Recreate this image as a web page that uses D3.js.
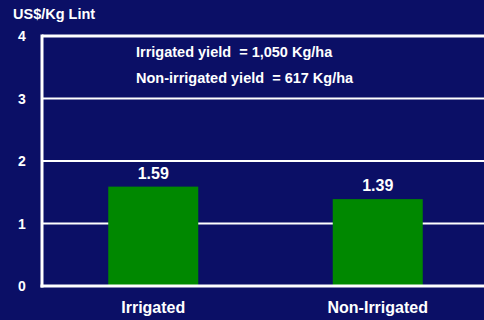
<!DOCTYPE html>
<html><head><meta charset="utf-8">
<script src="https://cdn.jsdelivr.net/npm/d3@7"></script>
<style>html,body{margin:0;padding:0;background:#0b0f66;}svg{display:block;}text{white-space:pre;}</style>
</head><body>
<script>
const categories = ["Irrigated", "Non-Irrigated"];
const values = [1.59, 1.39];
const yTicks = [0, 1, 2, 3, 4];
const notes = ["Irrigated yield  = 1,050 Kg/ha", "Non-irrigated yield  = 617 Kg/ha"];
const yTitle = "US$/Kg Lint";

const W = 484, H = 320;
const m = {left: 42, right: 0, top: 36, bottom: 34};
const svg = d3.select("body").append("svg").attr("width", W).attr("height", H);
svg.append("rect").attr("width", W).attr("height", H).attr("fill", "#0b0f66");

const x = d3.scaleBand().domain(categories).range([m.left - 1, W + 6]).padding(0);
const y = d3.scaleLinear().domain([0, 4]).range([H - m.bottom, m.top]);
const font = "'Liberation Sans', Arial, sans-serif";

// gridlines
svg.append("g").selectAll("line").data(yTicks.filter(d => d > 0)).join("line")
  .attr("x1", m.left).attr("x2", W).attr("y1", d => y(d)).attr("y2", d => y(d))
  .attr("stroke", "#fff").attr("stroke-width", d => d === 4 ? 3 : 2);

// bars
const bw = 90;
svg.append("g").selectAll("rect").data(values).join("rect")
  .attr("x", (d, i) => x(categories[i]) + x.bandwidth() / 2 - bw / 2)
  .attr("width", bw)
  .attr("y", d => y(d)).attr("height", d => y(0) - y(d))
  .attr("fill", "#008800");

// axes lines
svg.append("line").attr("x1", m.left).attr("x2", m.left).attr("y1", y(4) - 1.5).attr("y2", y(0) + 1.5)
  .attr("stroke", "#fff").attr("stroke-width", 3);
svg.append("line").attr("x1", m.left - 1.5).attr("x2", W).attr("y1", y(0)).attr("y2", y(0))
  .attr("stroke", "#fff").attr("stroke-width", 3);

// y tick labels
svg.append("g").selectAll("text").data(yTicks).join("text")
  .attr("x", 22).attr("y", d => y(d)).attr("dy", "0.36em")
  .attr("text-anchor", "middle").attr("fill", "#fff")
  .style("font", `bold 14px ${font}`).text(d => d);

// y title
svg.append("text").attr("x", 13).attr("y", 19).attr("fill", "#fff")
  .style("font", `bold 14.5px ${font}`).text(yTitle);

// value labels
svg.append("g").selectAll("text").data(values).join("text")
  .attr("x", (d, i) => x(categories[i]) + x.bandwidth() / 2)
  .attr("y", d => y(d) - 8)
  .attr("text-anchor", "middle").attr("fill", "#fff")
  .style("font", `bold 16px ${font}`).text(d => d.toFixed(2));

// category labels
svg.append("g").selectAll("text").data(categories).join("text")
  .attr("x", d => x(d) + x.bandwidth() / 2).attr("y", 313)
  .attr("text-anchor", "middle").attr("fill", "#fff")
  .style("font", `bold 16px ${font}`).text(d => d);

// notes
svg.append("g").selectAll("text").data(notes).join("text")
  .attr("x", 136).attr("y", (d, i) => 57 + i * 26)
  .attr("fill", "#fff").style("font", `bold 14.5px ${font}`).text(d => d);
</script>
</body></html>
